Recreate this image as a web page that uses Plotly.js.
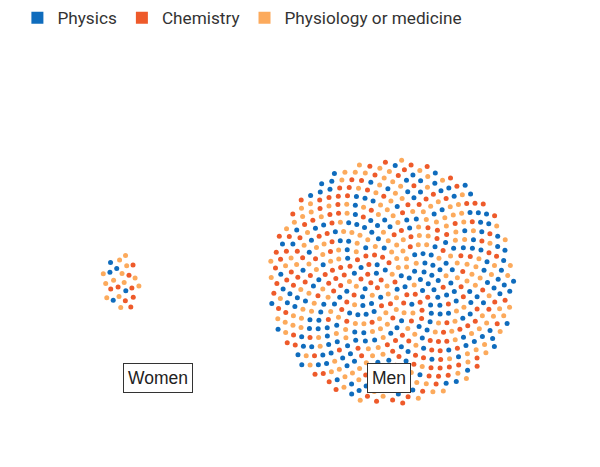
<!DOCTYPE html>
<html>
<head>
<meta charset="utf-8">
<script src="https://cdn.plot.ly/plotly-3.0.1.min.js"></script>
<style>html,body{margin:0;padding:0;background:#fff;}#chart{width:600px;height:467px;}</style>
</head>
<body>
<div id="chart"></div>
<script>
// ---- data (Nobel laureates by field and gender) ----
const fields = ["Physics", "Chemistry", "Physiology or medicine"];
const colors = ["#0f6cbd", "#ee5a2a", "#fcaa5c"];
const groups = ["Women", "Men"];
const womenCounts = [5, 8, 13];
const menCounts = [220, 186, 214];

// ---- layout helpers (positions in pixel-like data space) ----
const groupCenters = [[121.5, 282], [391.5, 281.5]];
const spacings = [4.85, 4.94];
const aspect = [[0.78, 1.18], [1, 1]];
const GOLDEN = Math.PI * (3 - Math.sqrt(5));

function mixKey(i) { // deterministic integer mixing to interleave categories
  let h = (i + 1) * 2654435761 >>> 0;
  h ^= h >>> 15; h = Math.imul(h, 2246822519) >>> 0;
  h ^= h >>> 13; h = Math.imul(h, 3266489917) >>> 0;
  h ^= h >>> 16;
  return h >>> 0;
}

function buildGroup(counts, center, asp, spacing) {
  const n = counts.reduce((a, b) => a + b, 0);
  const order = [...Array(n).keys()].sort((a, b) => mixKey(a + n) - mixKey(b + n));
  const cat = new Array(n);
  let k = 0;
  counts.forEach((c, ci) => { for (let j = 0; j < c; j++) cat[order[k++]] = ci; });
  const xs = counts.map(() => []), ys = counts.map(() => []);
  for (let i = 0; i < n; i++) {
    const r = spacing * Math.sqrt(i + 0.5);
    const t = i * GOLDEN;
    xs[cat[i]].push(center[0] + r * Math.cos(t) * asp[0]);
    ys[cat[i]].push(center[1] + r * Math.sin(t) * asp[1]);
  }
  return { xs, ys };
}

const traces = [];
// legend-only entries (square swatches)
fields.forEach((f, ci) => {
  traces.push({
    type: "scatter", mode: "markers", x: [null], y: [null], name: f,
    legendgroup: f, showlegend: true, hoverinfo: "skip",
    marker: { symbol: "square", size: 12, color: colors[ci] }
  });
});
[womenCounts, menCounts].forEach((counts, gi) => {
  const g = buildGroup(counts, groupCenters[gi], aspect[gi], spacings[gi]);
  fields.forEach((f, ci) => {
    traces.push({
      type: "scatter", mode: "markers", x: g.xs[ci], y: g.ys[ci],
      name: f + " (" + groups[gi] + ")", legendgroup: f, showlegend: false,
      hoverinfo: "skip",
      marker: { size: 5, color: colors[ci], line: { width: 0 } }
    });
  });
});

const labelPos = [[158, 378], [388.5, 378]];
const layout = {
  width: 600, height: 467,
  margin: { l: 0, r: 0, t: 0, b: 0 },
  paper_bgcolor: "#fff", plot_bgcolor: "#fff",
  font: { family: "Roboto, 'Noto Sans', sans-serif", color: "#333" },
  xaxis: { range: [0, 600], visible: false, fixedrange: true },
  yaxis: { range: [467, 0], visible: false, fixedrange: true },
  showlegend: true,
  legend: {
    orientation: "h", x: 0.029, y: 1.003, xanchor: "left", yanchor: "top",
    font: { size: 17.2, color: "#333" }, itemsizing: "trace",
    bgcolor: "rgba(0,0,0,0)", traceorder: "normal"
  },
  annotations: groups.map((gname, gi) => ({
    x: labelPos[gi][0], y: labelPos[gi][1], xref: "x", yref: "y",
    text: gname, showarrow: false,
    font: { family: "Liberation Sans, Arial, sans-serif", size: 17.5, color: "#222" },
    bgcolor: "#fff", bordercolor: "#333", borderwidth: 1, borderpad: 4
  }))
};

Plotly.newPlot("chart", traces, layout, { displayModeBar: false, staticPlot: true });
</script>
</body>
</html>
